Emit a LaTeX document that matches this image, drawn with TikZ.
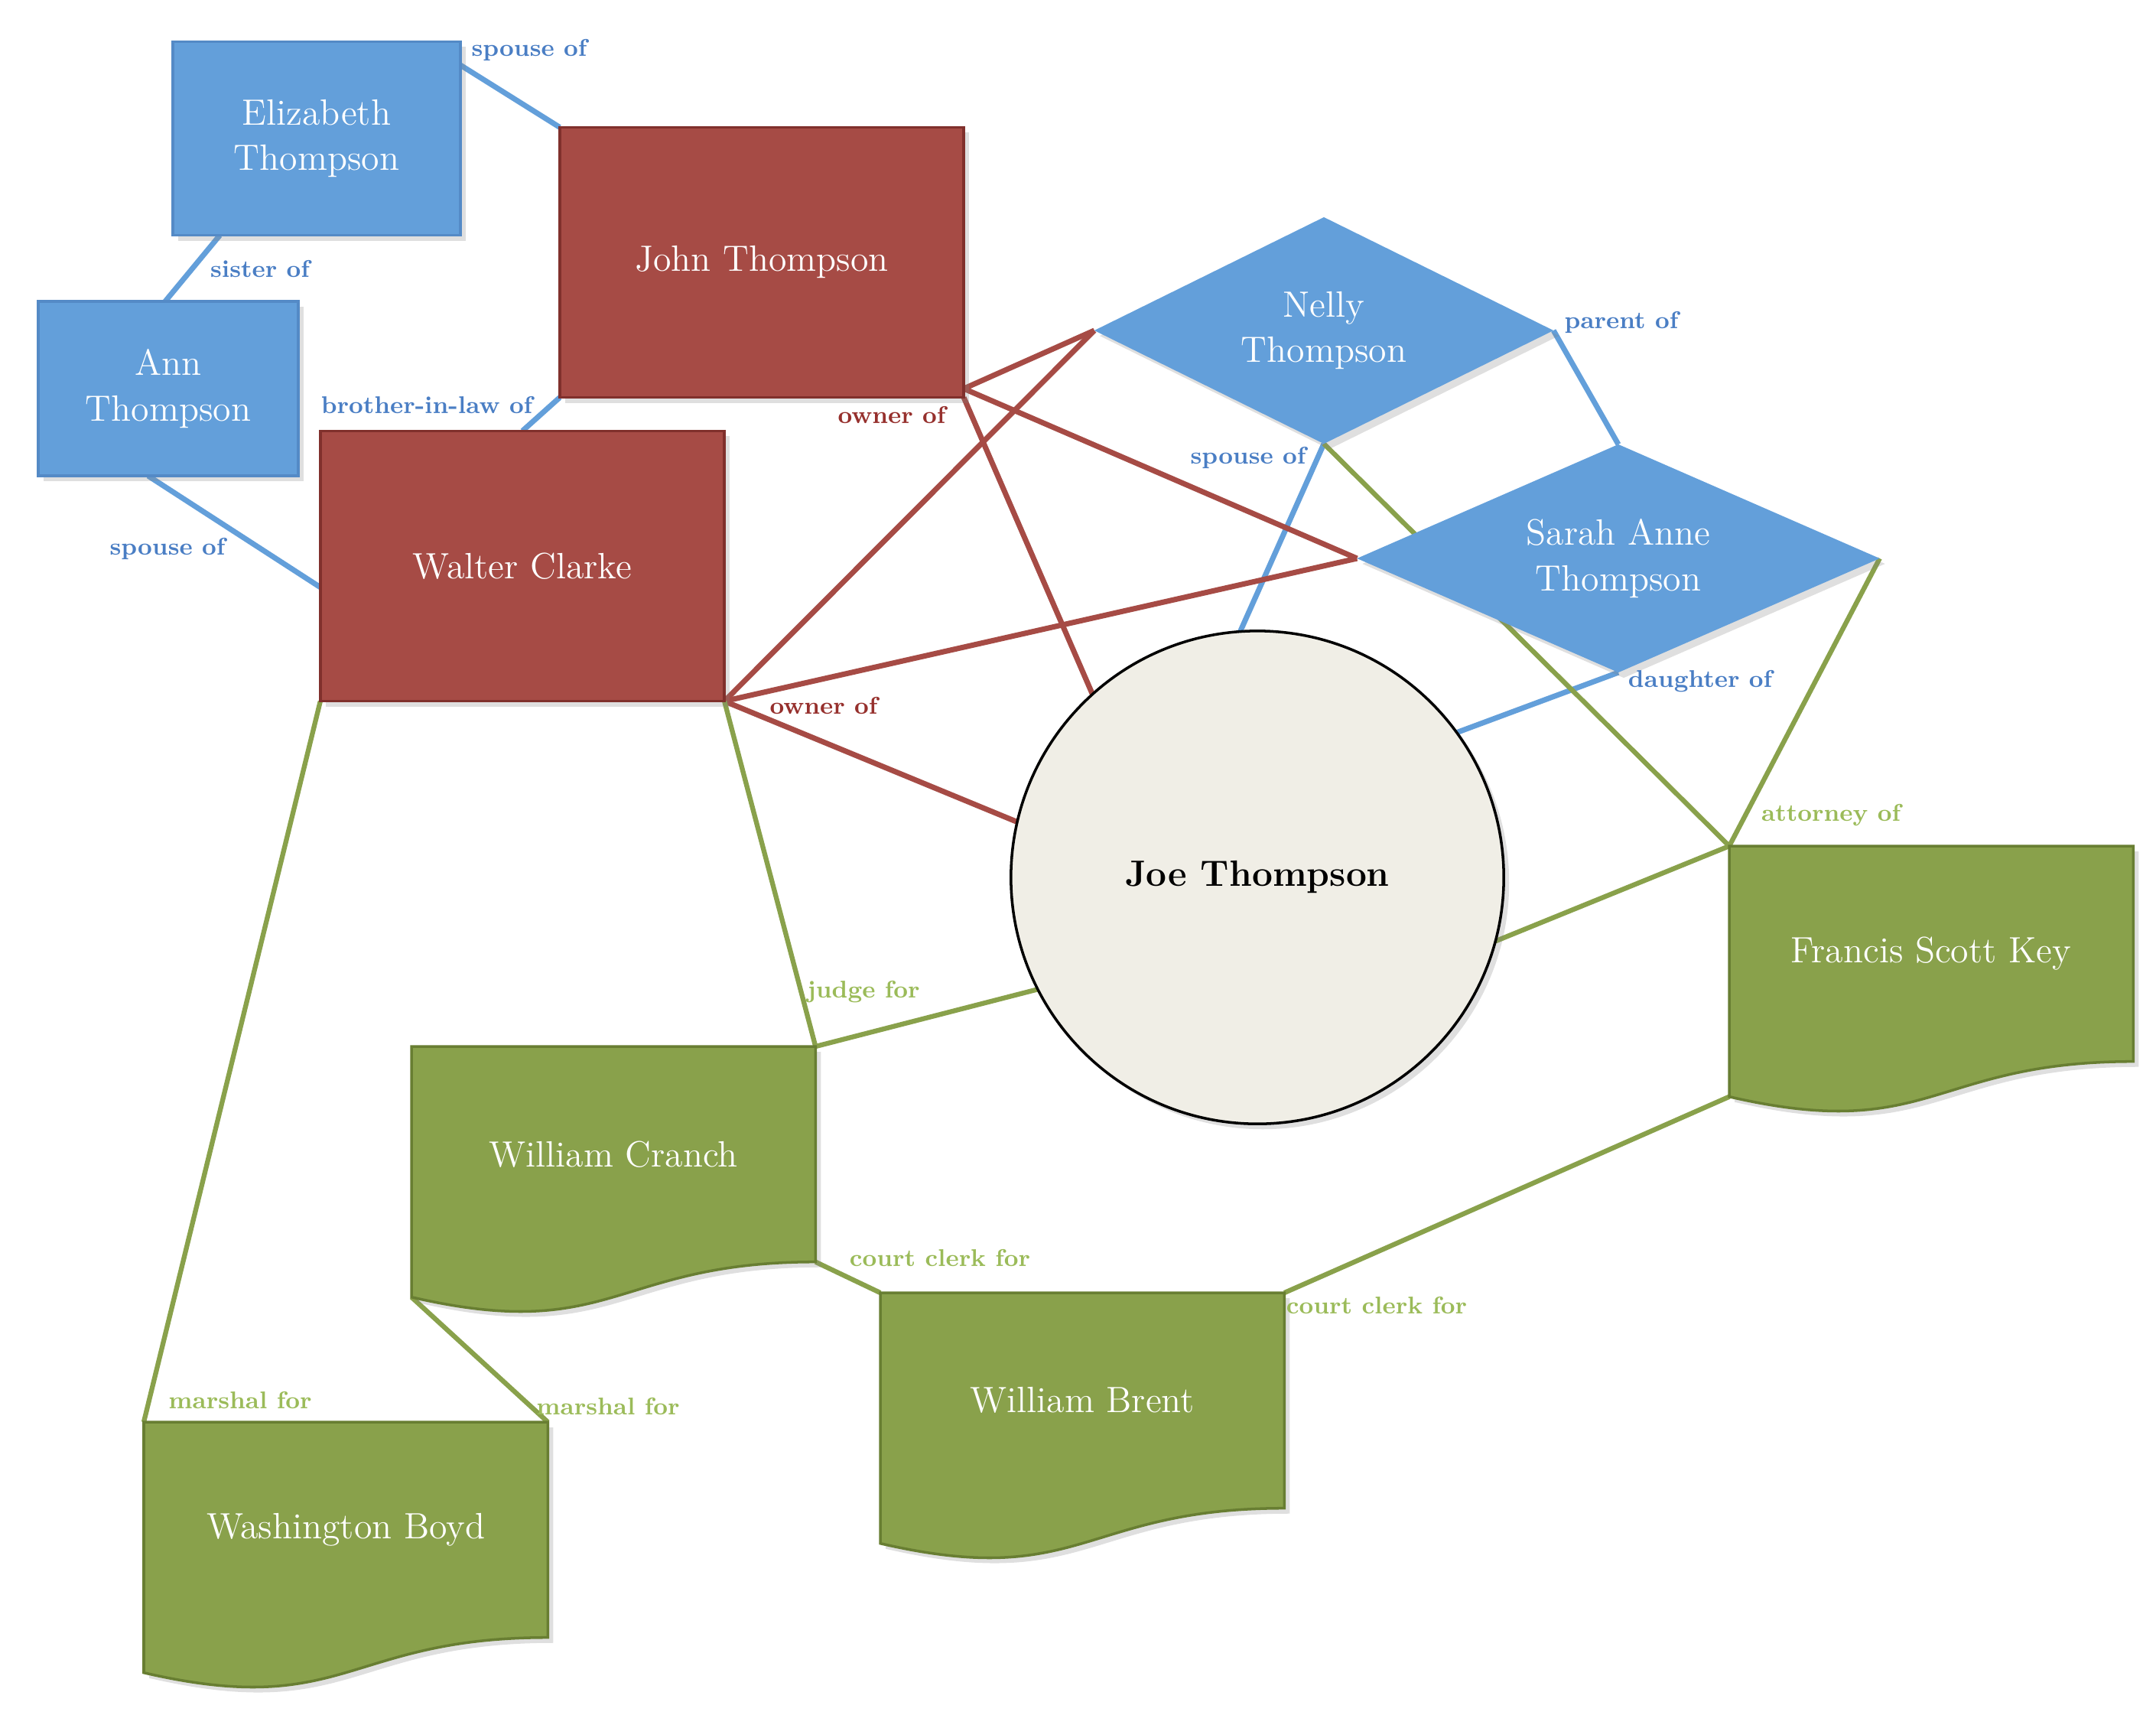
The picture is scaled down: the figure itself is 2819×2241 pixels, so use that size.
\documentclass[tikz,border=0pt]{standalone}
\usepackage{tikz}
\usetikzlibrary{shapes.geometric, calc, backgrounds, shadows}

\definecolor{famblue}{RGB}{99,159,218}
\definecolor{famblueedge}{RGB}{84,138,198}
\definecolor{familytext}{RGB}{74,126,196}
\definecolor{ownred}{RGB}{166,75,69}
\definecolor{ownrededge}{RGB}{128,48,44}
\definecolor{ownertext}{RGB}{150,48,45}
\definecolor{lawgreen}{RGB}{137,161,75}
\definecolor{lawgreenedge}{RGB}{104,126,50}
\definecolor{lawtext}{RGB}{155,187,89}
\definecolor{joefill}{RGB}{240,238,230}

\tikzset{
  namefont/.style={font=\fontsize{13.6}{17}\selectfont, text=white, align=center},
  softshadow/.style={drop shadow={shadow xshift=2pt, shadow yshift=-2pt, opacity=.25}},
  familybox/.style={rectangle, namefont, draw=famblueedge, fill=famblue, line width=1pt, inner sep=0pt, outer sep=0pt, softshadow},
  ownerbox/.style={rectangle, namefont, draw=ownrededge, fill=ownred, line width=1pt, inner sep=0pt, outer sep=0pt, minimum width=5.28cm, minimum height=3.53cm, softshadow},
  familydiamond/.style={diamond, namefont, fill=famblue, aspect=2, inner sep=0pt, outer sep=0pt, softshadow},
  joecircle/.style={circle, draw=black, line width=1pt, fill=joefill, minimum size=6.44cm, inner sep=0pt, outer sep=0pt, font=\fontsize{13.6}{17}\selectfont\bfseries, softshadow},
  lawdoc/.style={rectangle, namefont, anchor=north west, minimum width=5.28cm, minimum height=2.815cm, inner sep=0pt, outer sep=0pt},
  lawshape/.style={draw=lawgreenedge, fill=lawgreen, line width=1pt, softshadow},
  familyline/.style={draw=famblue, line width=2pt},
  ownerline/.style={draw=ownred, line width=2pt},
  lawline/.style={draw=lawgreen, line width=1.8pt},
  familylabel/.style={font=\fontsize{9}{11}\selectfont\bfseries, text=familytext},
  ownerlabel/.style={font=\fontsize{9}{11}\selectfont\bfseries, text=ownertext},
  lawlabel/.style={font=\fontsize{9}{11}\selectfont\bfseries, text=lawtext}
}

\begin{document}
\begin{tikzpicture}[x=0.01cm, y=-0.01cm]
\useasboundingbox (0,0) rectangle (2819,2241);

\node[familybox, minimum width=3.76cm, minimum height=2.53cm] (elizabeth) at (414,181) {Elizabeth\\Thompson};
\node[familybox, minimum width=3.40cm, minimum height=2.28cm] (ann) at (220,508) {Ann\\Thompson};
\node[ownerbox] (john) at (996,343) {John Thompson};
\node[ownerbox] (walter) at (683,740) {Walter Clarke};
\node[familydiamond, minimum width=6.00cm, minimum height=2.96cm] (nelly) at (1731,432) {Nelly\\Thompson};
\node[familydiamond, minimum width=6.83cm, minimum height=2.98cm] (sarah) at (2116,730) {Sarah Anne\\Thompson};
\node[joecircle] (joe) at (1644,1147) {Joe Thompson};
\node[lawdoc] (key) at (2261,1106) {Francis Scott Key};
\node[lawdoc] (cranch) at (538,1368) {William Cranch};
\node[lawdoc] (brent) at (1151,1690) {William Brent};
\node[lawdoc] (boyd) at (188,1859) {Washington Boyd};
\foreach \n in {key,cranch,brent,boyd}
  \coordinate (\n-end) at ($(\n.south west)+(0,46)$);

\begin{scope}[on background layer]
  \draw[familyline] (elizabeth.27) -- (john.north west);
  \draw[familyline] (elizabeth.225) -- (ann.92);
  \draw[familyline] (ann.257) -- (walter.186);
  \draw[familyline] (john.south west) -- (walter.north);
  \draw[familyline] (nelly.east) -- (sarah.north);
  \draw[familyline] (nelly.south) -- (joe.94);
  \draw[familyline] (sarah.south) -- (joe.36);
  \foreach \p in {nelly.west, sarah.west}
    \draw[ownerline] (john.-32) -- (\p);
  \draw[ownerline] (john.south east) -- (joe.132);
  \foreach \p in {nelly.west, sarah.west, joe.167}
    \draw[ownerline] (walter.south east) -- (\p);
  \draw[lawline] (walter.south west) -- (boyd.north west);
  \draw[lawline] (walter.south east) -- (cranch.north east);
  \draw[lawline] (cranch.north east) -- (joe.207);
  \draw[lawline] (cranch-end) -- (boyd.north east);
  \draw[lawline] (cranch.south east) -- (brent.north west);
  \draw[lawline] (brent.north east) -- (key-end);
  \foreach \p in {joe.-15, sarah.east, nelly.south}
    \draw[lawline] (key.north west) -- (\p);
  \foreach \n in {key,cranch,brent,boyd}
    \draw[lawshape] (\n.north west) -- (\n.north east) -- (\n.south east)
      .. controls (\n.south) and ($(\n.south)+(0,107)$) .. (\n-end) -- cycle;
\end{scope}

\node[familylabel] (lab-eliz-john) at (692,65) {spouse of};
\node[familylabel] (lab-eliz-ann) at (340,351) {sister of};
\node[familylabel] (lab-ann-walter) at (219,717) {spouse of};
\node[familylabel] (lab-john-walter) at (558,529) {brother-in-law of};
\node[familylabel] (lab-nelly-sarah) at (2120,421) {parent of};
\node[familylabel] (lab-nelly-joe) at (1632,598) {spouse of};
\node[familylabel] (lab-sarah-joe) at (2223,891) {daughter of};
\node[ownerlabel] (lab-john-own) at (1166,542) {owner of};
\node[ownerlabel] (lab-walter-own) at (1077,922) {owner of};
\node[lawlabel] (lab-key) at (2394,1066) {attorney of};
\node[lawlabel] (lab-cranch) at (1129,1297) {judge for};
\node[lawlabel] (lab-cranch-brent) at (1229,1644) {court clerk for};
\node[lawlabel] (lab-brent-key) at (1800,1706) {court clerk for};
\node[lawlabel] (lab-walter-boyd) at (314,1830) {marshal for};
\node[lawlabel] (lab-cranch-boyd) at (795,1838) {marshal for};
\end{tikzpicture}
\end{document}
